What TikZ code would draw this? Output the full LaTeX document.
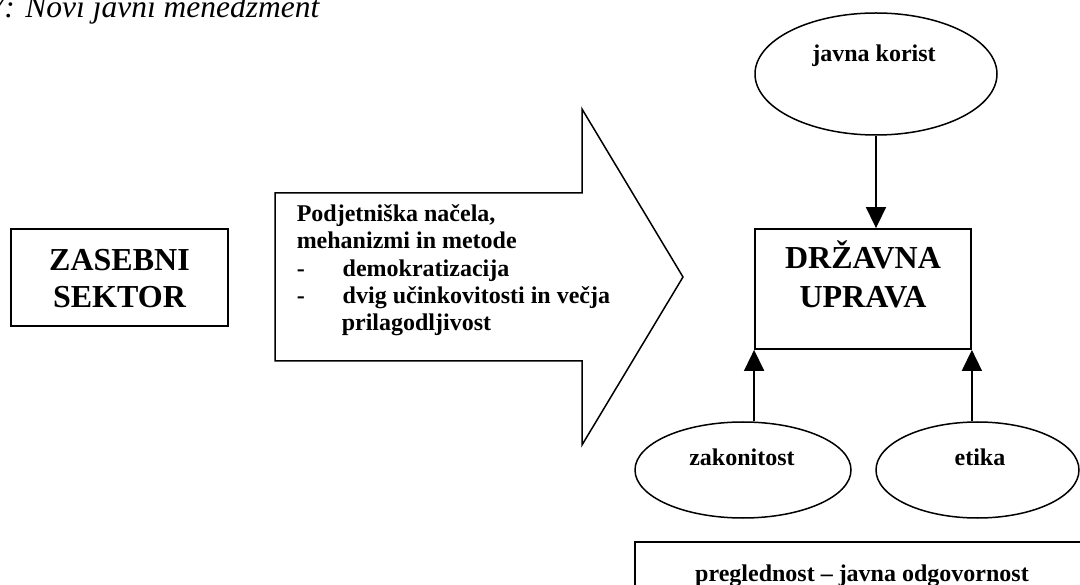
\documentclass[tikz,border=0pt]{standalone}
\usepackage{fontspec}
\setmainfont{Liberation Serif}
\usetikzlibrary{shapes.geometric,arrows.meta}
\begin{document}
\begin{tikzpicture}[x=1pt,y=-1pt,
  line width=1.5pt,
  boxshape/.style={draw, rectangle, inner sep=0pt, line width=1.8pt},
  ovalshape/.style={draw, ellipse, inner sep=0pt, line width=1.5pt},
  lbl/.style={inner sep=0pt, anchor=base, font=\fontsize{24}{27.3}\selectfont\bfseries},
  biglbl/.style={inner sep=0pt, anchor=base, font=\fontsize{32}{38}\selectfont\bfseries},
  conn/.style={line width=1.6pt, -{Triangle[width=20pt,length=21pt]}}
]
\clip (0,0) rectangle (1080,585);
\fill[white] (0,0) rectangle (1080,585);

% title
\node[anchor=base west, inner sep=0pt, font=\fontsize{31.5}{36}\selectfont\itshape] (title) at (-12,17.5) {7: Novi javni menedžment};

% private sector box
\node[boxshape, minimum width=217pt, minimum height=97pt] (zs) at (119.5,277.5) {};
\node[biglbl, font=\fontsize{32}{37}\selectfont\bfseries] (zst) at (119.5,271) {\parbox[t]{210pt}{\centering ZASEBNI\\SEKTOR}};

% big arrow
\draw[line width=1.5pt, line join=miter] (275,193) -- (582,193) -- (582,109) -- (683,277) -- (582,445) -- (582,361) -- (275,361) -- cycle;
\node[anchor=base west, inner sep=0pt, font=\fontsize{24}{27.3}\selectfont\bfseries] (armtxt) at (296,221.7)
 {\parbox[t]{330pt}{\raggedright Podjetniška načela,\\
 mehanizmi in metode\\
 \makebox[46pt][l]{-}demokratizacija\\
 \makebox[46pt][l]{-}dvig učinkovitosti in večja\\
 \hspace*{45pt}prilagodljivost}};

% state administration box
\node[boxshape, minimum width=216pt, minimum height=120pt] (dz) at (863,289) {};
\node[biglbl, font=\fontsize{32}{39}\selectfont\bfseries] (dzt) at (863,269) {\parbox[t]{210pt}{\centering DRŽAVNA\\UPRAVA}};

% ellipses
\node[ovalshape, minimum width=242pt, minimum height=122pt] (jk) at (876,74) {};
\node[lbl] (jkt) at (874,62) {javna korist};
\node[ovalshape, minimum width=216pt, minimum height=96pt] (zk) at (743,470) {};
\node[lbl] (zkt) at (742,465) {zakonitost};
\node[ovalshape, minimum width=203pt, minimum height=96pt] (et) at (977.5,470) {};
\node[lbl] (ett) at (980,465) {etika};

% bottom box
\node[boxshape, minimum width=530pt, minimum height=76pt] (pj) at (900,580) {};
\node[lbl] (pjt) at (862,581) {preglednost – javna odgovornost};

% connectors
\draw[conn] (jk.south) -- (jk.south |- dz.north);
\draw[conn] (dz.south west |- zk.north) -- (dz.south west);
\draw[conn] (dz.south east |- et.north) -- (dz.south east);
\end{tikzpicture}
\end{document}
